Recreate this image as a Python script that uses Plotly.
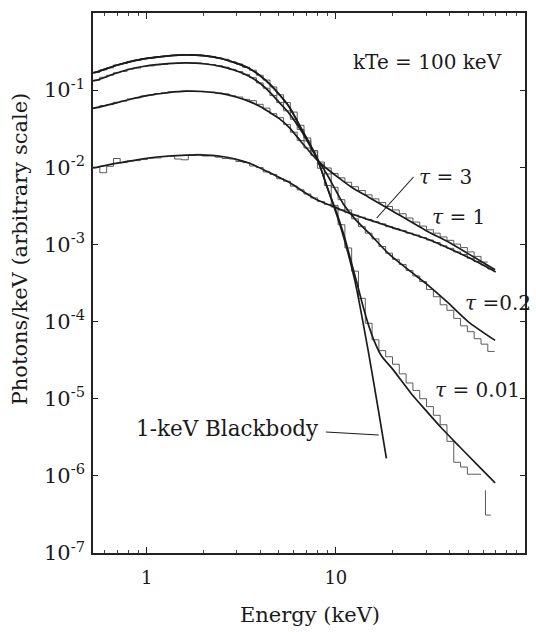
import plotly.graph_objects as go

# ---------------- data ----------------
# Smooth model curves: energy (keV) and photons/keV
bb_E = [0.52, 0.545, 0.7, 0.85, 1.0, 1.3, 1.62, 2.0, 2.5, 3.0, 3.5, 4.0, 4.5, 5.0, 5.66, 6.6,
        7.94, 9.0, 10.6, 12.6, 14.9, 16.8, 18.5]
bb_F = [0.168, 0.172, 0.212, 0.240, 0.258, 0.278, 0.287, 0.280, 0.255, 0.222, 0.190, 0.152,
        0.118, 0.089, 0.061, 0.031, 0.0132, 0.0055, 0.00168, 0.00034, 0.000039, 0.0000070,
        0.00000168]

t001_E = [0.52, 0.545, 0.7, 0.85, 1.0, 1.3, 1.62, 2.0, 2.5, 3.0, 3.5, 4.0, 4.5, 5.0, 5.66, 6.6,
          7.94, 9.0, 10, 11, 12, 13, 14, 15, 16, 17.4, 20, 25, 30, 36.1, 45, 55, 69.5]
t001_F = [0.168, 0.172, 0.212, 0.240, 0.258, 0.278, 0.287, 0.280, 0.255, 0.222, 0.190, 0.152,
          0.118, 0.089, 0.061, 0.031, 0.0132, 0.0055, 0.00275, 0.00135, 0.00062, 0.00030,
          0.000150, 0.000085, 0.000055, 0.000036, 0.000024, 0.0000117, 0.0000070, 0.0000042,
          0.0000024, 0.00000145, 0.00000081]

t02_E = [0.52, 0.545, 0.7, 0.85, 1.0, 1.3, 1.62, 2.0, 2.5, 3.0, 3.5, 4.0, 4.5, 5.0, 5.66, 6.6,
         7.94, 9.0, 10, 11, 12.7, 15, 19, 25, 30, 39.4, 50, 69.5]
t02_F = [0.132, 0.135, 0.168, 0.192, 0.207, 0.221, 0.226, 0.220, 0.202, 0.177, 0.150, 0.121,
         0.093, 0.070, 0.050, 0.029, 0.0132, 0.0080, 0.0050, 0.0033, 0.0021, 0.0014, 0.00076,
         0.00044, 0.00031, 0.000173, 0.000100, 0.000057]

t1_E = [0.52, 0.566, 0.7, 0.85, 1.0, 1.3, 1.62, 2.0, 2.5, 3.0, 3.5, 4.0, 4.5, 5.0, 5.66, 6.6,
        7.94, 9.0, 10, 12, 14.9, 20, 29.7, 40, 50, 69.5]
t1_F = [0.058, 0.0606, 0.069, 0.078, 0.085, 0.093, 0.097, 0.096, 0.090, 0.081, 0.071, 0.061,
        0.051, 0.043, 0.033, 0.021, 0.0125, 0.0095, 0.0078, 0.0056, 0.0041, 0.0027, 0.00153,
        0.00105, 0.00076, 0.00047]

t3_E = [0.52, 0.545, 0.7, 0.844, 1.0, 1.3, 1.62, 1.9, 2.5, 3.08, 3.5, 4.43, 5.0, 5.66, 6.6,
        8.1, 10, 12, 14.9, 20, 29.7, 40, 50, 70]
t3_F = [0.0098, 0.0100, 0.0113, 0.0122, 0.0131, 0.0140, 0.0144, 0.0145, 0.0138, 0.0124,
        0.0113, 0.0086, 0.0074, 0.0064, 0.0050, 0.0037, 0.0030, 0.0025, 0.0021, 0.00165,
        0.00120, 0.00088, 0.00068, 0.00044]

# Monte Carlo histograms: bin edges (keV) and counts per bin
hist_edges = [0.520, 0.565, 0.614, 0.667, 0.724, 0.787, 0.855, 0.929, 1.009, 1.096, 1.191,
              1.294, 1.405, 1.527, 1.659, 1.802, 1.958, 2.127, 2.311, 2.510, 2.727, 2.963,
              3.219, 3.497, 3.799, 4.127, 4.484, 4.871, 5.292, 5.749, 6.246, 6.786, 7.372,
              8.009, 8.701, 9.453, 10.27, 11.16, 12.12, 13.17, 14.31, 15.54, 16.89, 18.34,
              19.93, 21.65, 23.52, 25.55, 27.76, 30.16, 32.77, 35.60, 38.67, 42.02, 45.65,
              49.59, 53.88, 58.53, 63.59, 69.08, 75.05]

h001 = [0.170, 0.183, 0.194, 0.212, 0.221, 0.236, 0.244, 0.256, 0.261, 0.270, 0.274, 0.281,
        0.283, 0.288, 0.285, 0.286, 0.279, 0.272, 0.262, 0.251, 0.233, 0.218, 0.198, 0.181,
        0.156, 0.135, 0.110, 0.087, 0.069, 0.052, 0.035, 0.024, 0.0165, 0.0097, 0.0058,
        0.0032, 0.0018, 0.00090, 0.00045, 0.00020, 0.000095, 0.000058, 0.000042, 0.000035,
        0.000028, 0.000021, 0.0000160, 0.0000128, 0.0000100, 0.0000079, 0.0000061,
        0.0000046, 0.0000028, 0.0000015, 0.0000013, 0.00000105, 0.00000105]
h001_lone_E = [61.8, 61.8, 66.0]
h001_lone_F = [0.00000065, 0.00000031, 0.00000031]

h02 = [0.134, 0.147, 0.156, 0.168, 0.175, 0.187, 0.193, 0.202, 0.206, 0.213, 0.216, 0.222,
       0.223, 0.227, 0.225, 0.225, 0.220, 0.215, 0.207, 0.198, 0.186, 0.174, 0.160, 0.145,
       0.124, 0.106, 0.085, 0.069, 0.054, 0.042, 0.031, 0.0220, 0.0158, 0.0110, 0.0082,
       0.0055, 0.0038, 0.0028, 0.00215, 0.00170, 0.00140, 0.00118, 0.00094, 0.00077, 0.00064,
       0.00055, 0.00046, 0.00039, 0.00033, 0.00026, 0.00021, 0.000165, 0.000140, 0.000110,
       0.000088, 0.000074, 0.000060, 0.000051, 0.000041]

h1 = [0.0590, 0.0630, 0.0650, 0.0695, 0.0720, 0.0770, 0.0795, 0.0840, 0.0865, 0.0905, 0.0920,
      0.0950, 0.0955, 0.0975, 0.0965, 0.0962, 0.0950, 0.0945, 0.0915, 0.0895, 0.0845, 0.0815,
      0.0760, 0.0730, 0.0655, 0.0585, 0.0495, 0.0440, 0.0360, 0.0285, 0.0222, 0.0178, 0.0143,
      0.0117, 0.0098, 0.0083, 0.0073, 0.0064, 0.0056, 0.0050, 0.0044, 0.0039, 0.0035, 0.0031,
      0.00280, 0.00250, 0.00220, 0.00195, 0.00173, 0.00155, 0.00140, 0.00125, 0.00113,
      0.00101, 0.00091, 0.00080, 0.00070, 0.00059]

h3 = [0.0100, 0.0085, 0.0103, 0.0130, 0.0115, 0.0121, 0.0122, 0.0126, 0.0131, 0.0132, 0.0137,
      0.0139, 0.0128, 0.0125, 0.0143, 0.0147, 0.0140, 0.0141, 0.0135, 0.0130, 0.0128, 0.0119,
      0.0115, 0.0104, 0.0099, 0.0087, 0.0081, 0.0071, 0.0066, 0.0057, 0.0051, 0.0045, 0.0040,
      0.0036, 0.0033, 0.00305, 0.0028, 0.0026, 0.0024, 0.00225, 0.0021, 0.00197, 0.00185,
      0.0017, 0.0016, 0.00152, 0.0014, 0.00132, 0.00123, 0.00114, 0.00106, 0.00096, 0.00089,
      0.0008, 0.00074, 0.00066, 0.0006, 0.00054, 0.00048]

y_tickvals = [1, 1e-1, 1e-2, 1e-3, 1e-4, 1e-5, 1e-6, 1e-7]
y_ticktext = ["10 <sup>0</sup>", "10<sup>-1</sup>", "10<sup>-2</sup>", "10<sup>-3</sup>",
              "10<sup>-4</sup>", "10<sup>-5</sup>", "10<sup>-6</sup>", "10<sup>-7</sup>"]
x_tickvals = [1, 10, 100]
x_ticktext = ["1", "10", "100"]
x_minor = [0.6, 0.7, 0.8, 0.9, 2, 3, 4, 5, 6, 7, 8, 9, 20, 30, 40, 50, 60, 70, 80, 90]

# ---------------- figure ----------------
FONT = "DejaVu Serif, Liberation Serif, serif"
SMOOTH = dict(color="#1c1c1c", width=1.7)
HIST = dict(color="#4a4a4a", width=0.9)

fig = go.Figure()


def add_hist(vals):
    n = len(vals)
    fig.add_trace(go.Scatter(x=hist_edges[:n + 1], y=list(vals) + [vals[-1]], mode="lines",
                             line=dict(shape="hv", **HIST), hoverinfo="skip"))


for v in (h3, h1, h02, h001):
    add_hist(v)
fig.add_trace(go.Scatter(x=h001_lone_E, y=h001_lone_F, mode="lines", line=HIST))

for E, F in ((t3_E, t3_F), (t1_E, t1_F), (t02_E, t02_F), (t001_E, t001_F), (bb_E, bb_F)):
    fig.add_trace(go.Scatter(x=E, y=F, mode="lines",
                             line=dict(shape="spline", smoothing=0.7, **SMOOTH)))

# plot area in pixels: left 93, right 527, top 13, bottom 553
L, R, T, B = 93, 527, 13, 553


def px(x):
    return (x - L) / (R - L)


def py(y):
    return (B - y) / (B - T)


def label(text, x, y, size=20, anchor="left"):
    fig.add_annotation(text=text, x=px(x), y=py(y), xref="paper", yref="paper",
                       xanchor=anchor, yanchor="middle", showarrow=False,
                       font=dict(family=FONT, size=size, color="#1a1a1a"))


label("kTe = 100 keV", 352, 62)
label("<i>τ</i> = 3", 418, 177)
label("<i>τ</i> = 1", 432, 217)
label("<i>τ</i> =0.2", 465, 303)
label("<i>τ</i> = 0.01", 435, 390)
label("1-keV Blackbody", 134, 428, size=21.5)

for (x0, y0, x1, y1) in ((327, 432, 380, 435), (415, 177, 378, 218)):
    fig.add_shape(type="line", xref="paper", yref="paper", x0=px(x0), y0=py(y0),
                  x1=px(x1), y1=py(y1), line=dict(color="#1a1a1a", width=1.1))

# axis titles
fig.add_annotation(text="Energy (keV)", x=px(311), y=py(615), xref="paper", yref="paper",
                   showarrow=False, xanchor="center", yanchor="middle",
                   font=dict(family=FONT, size=21, color="#1a1a1a"))
fig.add_annotation(text="Photons/keV (arbitrary scale)", x=px(20), y=py(249), xref="paper",
                   yref="paper", showarrow=False, textangle=-90, xanchor="center",
                   yanchor="middle", font=dict(family=FONT, size=21, color="#1a1a1a"))

fig.update_layout(
    width=536, height=632, margin=dict(l=L, r=536 - R, t=T, b=632 - B),
    paper_bgcolor="white", plot_bgcolor="white", showlegend=False,
    font=dict(family=FONT, color="#1a1a1a"),
)
fig.update_xaxes(type="log", range=[-0.284, 2.0], showgrid=False, zeroline=False,
                 showline=True, linecolor="#222", linewidth=1.6, mirror="ticks",
                 ticks="inside", ticklen=6, tickwidth=1.4, tickcolor="#222",
                 tickvals=x_tickvals, ticktext=x_ticktext,
                 tickfont=dict(family=FONT, size=18),
                 ticklabelstandoff=8,
                 minor=dict(ticks="inside", ticklen=3, tickwidth=1, tickcolor="#444",
                            tickvals=x_minor, showgrid=False))
fig.update_yaxes(type="log", range=[-7, 0], showgrid=False, zeroline=False,
                 showline=True, linecolor="#222", linewidth=1.6, mirror="ticks",
                 ticks="inside", ticklen=5, tickwidth=1.4, tickcolor="#222",
                 tickvals=y_tickvals, ticktext=y_ticktext,
                 tickfont=dict(family=FONT, size=21),
                 ticklabelstandoff=2)

fig.write_html("out.html")
